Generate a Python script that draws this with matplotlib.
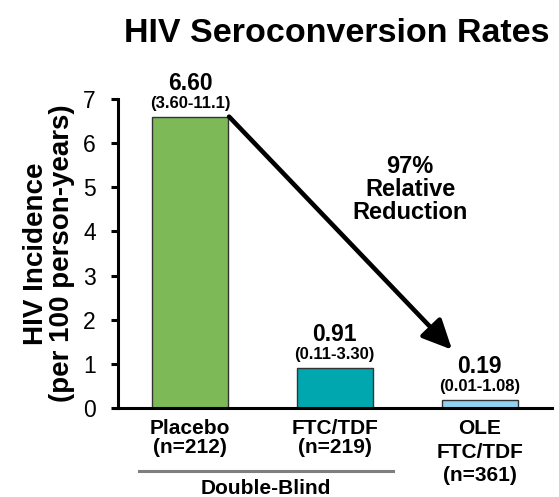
"""HIV seroconversion rates bar chart."""

import matplotlib
matplotlib.use("Agg")
import matplotlib.pyplot as plt
from matplotlib.lines import Line2D

plt.rcParams["font.family"] = ["Liberation Sans", "DejaVu Sans"]

groups = ["Placebo\n(n=212)", "FTC/TDF\n(n=219)", "OLE\nFTC/TDF\n(n=361)"]
incidence = [6.60, 0.91, 0.19]
ci_labels = ["(3.60-11.1)", "(0.11-3.30)", "(0.01-1.08)"]
colors = ["#7DB956", "#00A7AE", "#8ED3F2"]

fig = plt.figure(figsize=(5.59, 4.97), dpi=100)
ax = fig.add_axes([118 / 559, 1 - 408 / 497, 434 / 559, 309 / 497])

x = list(range(len(incidence)))
ax.bar(x, incidence, width=0.525, color=colors, edgecolor="#333333", linewidth=1.0, zorder=2)

for xi, val, ci in zip(x, incidence, ci_labels):
    ax.annotate(f"{val:.2f}", (xi, val), xytext=(0, 19.5), textcoords="offset points",
                ha="center", va="baseline", fontsize=16.5, fontweight="bold")
    ax.annotate(ci, (xi, val), xytext=(0, 6), textcoords="offset points",
                ha="center", va="baseline", fontsize=12, fontweight="bold")

# reduction arrow from placebo bar to OLE bar
ax.annotate("", xy=(1.81, 1.32), xytext=(0.27, 6.6),
            arrowprops=dict(arrowstyle="-|>,head_length=1.8,head_width=0.85",
                            color="black", lw=3.3, shrinkA=0, shrinkB=0),
            annotation_clip=False)
ax.text(1.52, 4.95, "97%\nRelative\nReduction", ha="center", va="center",
        fontsize=17, fontweight="bold", linespacing=0.98)

ax.set_xlim(-0.497, 2.5)
ax.set_ylim(0, 7)
ax.set_yticks(range(8))
ax.tick_params(axis="y", labelsize=16.5, length=5, width=2.2, pad=11, direction="out")
ax.tick_params(axis="x", length=0, pad=8)
ax.set_xticks(x)
ax.set_xticklabels(groups, fontsize=15, fontweight="bold", linespacing=1.0)
ax.get_xticklabels()[2].set_linespacing(1.3)

for side in ["top", "right"]:
    ax.spines[side].set_visible(False)
ax.spines["left"].set_linewidth(2.2)
ax.spines["bottom"].set_linewidth(2.2)

ax.set_ylabel("HIV Incidence\n(per 100 person-years)", fontsize=20, fontweight="bold",
              linespacing=1.0, labelpad=6)

# double-blind bracket under the first two groups
fig.add_artist(Line2D([139 / 559, 393 / 559], [1 - 471 / 497, 1 - 471 / 497],
                      color="#7F7F7F", lw=2.2))
fig.text(266 / 559, 1 - 488 / 497, "Double-Blind", ha="center", va="center",
         fontsize=15, fontweight="bold")

fig.text(337 / 559, 1 - 42 / 497, "HIV Seroconversion Rates", ha="center", va="baseline",
         fontsize=24.5, fontweight="bold")

fig.savefig("out.png", dpi=100)
